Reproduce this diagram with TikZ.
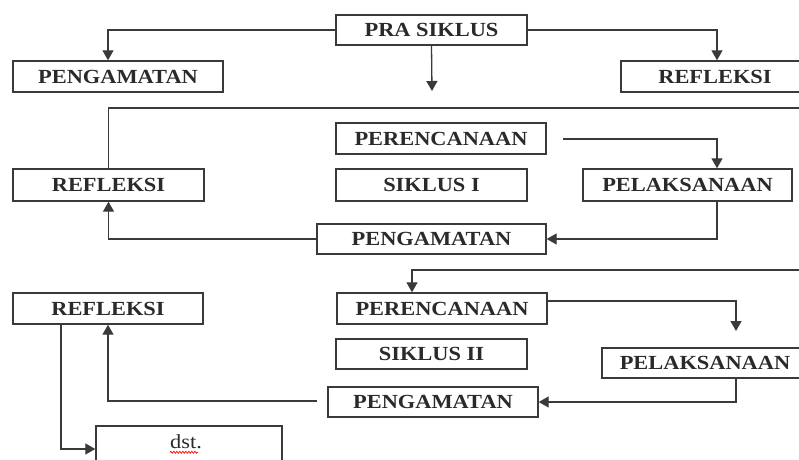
\documentclass[tikz,border=0pt]{standalone}
\usepackage{fontspec}
\setmainfont{Liberation Serif}[FakeStretch=1.12]
\usetikzlibrary{arrows.meta,decorations.pathmorphing}
\definecolor{ink}{HTML}{2A2A2A}
\definecolor{edge}{HTML}{3A3A3A}
\tikzset{
  box/.style={draw=edge, line width=1.4pt, rectangle, inner sep=0pt, text=ink,
    font=\fontsize{20}{22}\selectfont\bfseries},
  conn/.style={draw=edge, line width=1.3pt},
  arr/.style={conn, -{Triangle[length=10pt,width=11pt]}},
}
\begin{document}
\begin{tikzpicture}[x=1pt,y=-1pt]
\useasboundingbox (0,0) rectangle (799,459);
\fill[white] (0,0) rectangle (799,459);
\clip (0,0) rectangle (799,459);
% top row
\node[box, minimum width=191, minimum height=30] (pra) at (431.5,30) {PRA SIKLUS};
\node[box, minimum width=210, minimum height=31] (peng0) at (118,76.5) {PENGAMATAN};
\node[box, minimum width=188, minimum height=31] (ref0) at (715,76.5) {REFLEKSI};
% cycle I
\node[box, minimum width=210, minimum height=31] (per1) at (441,138.5) {PERENCANAAN};
\node[box, minimum width=191, minimum height=32] (sik1) at (431.5,185) {SIKLUS I};
\node[box, minimum width=191, minimum height=32] (ref1) at (108.5,185) {REFLEKSI};
\node[box, minimum width=209, minimum height=32] (pel1) at (687.5,185) {PELAKSANAAN};
\node[box, minimum width=229, minimum height=30] (peng1) at (431.5,239) {PENGAMATAN};
% cycle II
\node[box, minimum width=210, minimum height=31] (per2) at (442,308.5) {PERENCANAAN};
\node[box, minimum width=191, minimum height=30] (sik2) at (431.5,354) {SIKLUS II};
\node[box, minimum width=190, minimum height=31] (ref2) at (108,308.5) {REFLEKSI};
\node[box, minimum width=206, minimum height=30] (pel2) at (705,363) {PELAKSANAAN};
\node[box, minimum width=210, minimum height=30] (peng2) at (433,402) {PENGAMATAN};
\node[box, minimum width=186, minimum height=46] (dst) at (189,449) {};
\node[text=ink, font=\fontsize{20}{22}\selectfont, inner sep=0pt] (dsttext) at (186,442) {dst.};
\draw[red, line width=0.7pt, decorate, decoration={snake, amplitude=1pt, segment length=3pt}]
  ([yshift=-3pt]dsttext.south west) -- ([yshift=-3pt,xshift=-4pt]dsttext.south east);
% coordinates for free ends
\coordinate (drop) at (432,91);
\coordinate (topR) at (810,108);
\coordinate (p1s) at (563,139);
\coordinate (topR2) at (810,270);
\coordinate (drop2) at (736,331);
\coordinate (g2) at (317,401);
% connectors
\draw[arr] (pra.west) -| ([xshift=-10pt]peng0.north);
\draw[arr] (pra.east) -| ([xshift=2pt]ref0.north);
\draw[arr] (pra.south) -- (drop);
\draw[conn] (topR) -| (ref1.north);
\draw[arr] (p1s) -| ([xshift=29.5pt]pel1.north);
\draw[arr] ([xshift=29.5pt]pel1.south) |- (peng1.east);
\draw[arr] (peng1.west) -| (ref1.south);
\draw[arr] (topR2) -| ([xshift=-30pt]per2.north);
\draw[arr] ([yshift=7.5pt]per2.east) -| (drop2);
\draw[arr] ([xshift=31pt]pel2.south) |- (peng2.east);
\draw[arr] (g2) -| (ref2.south);
\draw[arr] ([xshift=-47pt]ref2.south) |- (dst.west);
\end{tikzpicture}
\end{document}
